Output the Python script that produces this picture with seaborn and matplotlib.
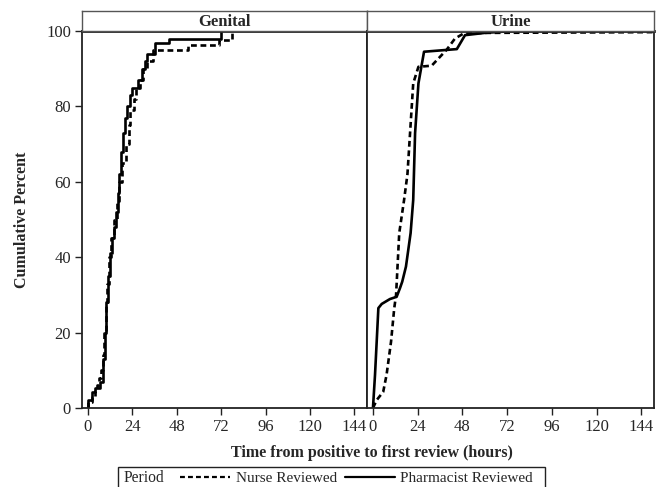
import numpy as np
import pandas as pd
import matplotlib
matplotlib.use("Agg")
import matplotlib.pyplot as plt
from matplotlib.lines import Line2D
from matplotlib.patches import Rectangle
import seaborn as sns

# ---------------- data ----------------
panels = ["Genital", "Urine"]
periods = ["Nurse Reviewed", "Pharmacist Reviewed"]

# Genital: step (ECDF-like) curves
gen_nurse_t = [0, 0, 2, 4, 5, 6, 7, 8, 8.5, 9.5, 10.5, 11.5, 12.5, 14, 15.5, 17, 18.5,
               20.5, 22, 23, 25, 26, 28, 30, 32, 35, 54, 71, 78]
gen_nurse_p = [0, 1.5, 3, 4.5, 6, 8, 10, 14, 20, 27, 33, 40, 45, 50, 55, 60, 65,
               70, 75, 79, 82, 85, 87, 90, 92, 95, 96.3, 97.6, 100]
gen_pharm_t = [0, 0, 2, 4, 6.5, 8, 9, 10, 11, 12, 13, 14, 15, 16, 17, 18, 19,
               20, 21, 23, 24, 27, 29, 31, 32, 36, 44, 72]
gen_pharm_p = [0, 2.1, 4.2, 5.3, 7, 13, 20, 28, 35, 41, 45, 48, 52, 57, 62, 68, 73,
               77, 80, 83, 85, 87, 90, 92, 94, 96.7, 97.8, 100]

# Urine: smooth curves
uri_nurse_t = [0, 2, 5.5, 7.3, 9.7, 11.4, 12.4, 14.1, 16.7, 18.5, 19.9, 21.6, 24.4,
               31.5, 39.5, 44, 48.5, 60, 151]
uri_nurse_p = [0, 2.1, 4.3, 8.8, 17.6, 26.4, 30, 46.4, 55.2, 62, 72.9, 86.1, 90.5,
               90.8, 95, 98, 99.3, 99.5, 99.7]
uri_pharm_t = [0, 1.1, 2.0, 2.9, 4.7, 9.1, 12.7, 14.5, 15.7, 17.7, 20.2, 21.6,
               22.6, 24.4, 27.4, 45, 49.4, 60, 75, 151]
uri_pharm_p = [0, 8.8, 17.6, 26.5, 27.6, 28.9, 29.5, 31.8, 33.5, 37.5, 46.4, 55.2,
               72.9, 86.1, 94.5, 95.2, 98.9, 99.5, 100, 100]

x_ticks = [0, 24, 48, 72, 96, 120, 144]
y_ticks = [0, 20, 40, 60, 80, 100]
x_label = "Time from positive to first review (hours)"
y_label = "Cumulative Percent"
legend_title = "Period"

# ---------------- build frames ----------------
def frame(t, p, period):
    return pd.DataFrame({"t": t, "p": p, "Period": period})

gen_df = pd.concat([frame(gen_nurse_t, gen_nurse_p, periods[0]),
                    frame(gen_pharm_t, gen_pharm_p, periods[1])], ignore_index=True)
uri_df = pd.concat([frame(uri_nurse_t, uri_nurse_p, periods[0]),
                    frame(uri_pharm_t, uri_pharm_p, periods[1])], ignore_index=True)

# ---------------- style ----------------
sns.set_theme(style="white")
plt.rcParams["font.family"] = ["Liberation Serif", "DejaVu Serif"]
plt.rcParams["axes.edgecolor"] = "#222222"

W, H = 665, 487
fig = plt.figure(figsize=(W / 100, H / 100), dpi=100)

def fx(px):
    return px / W

def fy(py):
    return 1 - py / H

plot_top, plot_bot = 31, 408
head_top = 11
edges = [(82, 367), (367, 654)]

dash_pat = (2.2, 1.4)
dash_map = {periods[0]: dash_pat, periods[1]: ""}

data = [gen_df, uri_df]
for i, (name, (x0, x1)) in enumerate(zip(panels, edges)):
    ax = fig.add_axes([fx(x0), fy(plot_bot), fx(x1) - fx(x0), fy(plot_top) - fy(plot_bot)])
    kw = dict(drawstyle="steps-post") if i == 0 else {}
    sns.lineplot(data=data[i], x="t", y="p", style="Period", dashes=dash_map,
                 color="black", lw=1.9, estimator=None, sort=False,
                 legend=False, ax=ax, **kw)
    ax.set_xlim(-3.2, 150.8)
    ax.set_ylim(0, 100)
    ax.set_xticks(x_ticks)
    ax.set_xticklabels([str(v) for v in x_ticks], fontsize=12)
    ax.set_xlabel("")
    ax.set_ylabel("")
    if i == 0:
        ax.set_yticks(y_ticks)
        ax.set_yticklabels([str(v) for v in y_ticks], fontsize=12)
    else:
        ax.set_yticks([])
    ax.tick_params(axis="both", which="both", direction="out", length=5, width=1,
                   color="#222222", pad=3, bottom=True, left=(i == 0))
    for s in ax.spines.values():
        s.set_linewidth(1.3)
        s.set_color("#222222")
    ax.spines["top"].set_linewidth(2.0)

    # header strip
    hx = fig.add_axes([fx(x0), fy(plot_top), fx(x1) - fx(x0), fy(head_top) - fy(plot_top)])
    hx.set_xticks([])
    hx.set_yticks([])
    for s in hx.spines.values():
        s.set_linewidth(1.0)
        s.set_color("#555555")
    hx.text(0.5, 0.45, name, ha="center", va="center", fontsize=12,
            fontweight="bold", transform=hx.transAxes)

fig.text(fx(372), fy(453), x_label, ha="center", va="center",
         fontsize=11.5, fontweight="bold")
fig.text(fx(22), fy(220), y_label, ha="center", va="center", rotation=90,
         fontsize=11.5, fontweight="bold")

# legend: boxed row "Period  ---- Nurse Reviewed  ____ Pharmacist Reviewed"
fig.add_artist(Rectangle((fx(118), fy(490)), fx(545) - fx(118), fy(467) - fy(490),
                         transform=fig.transFigure, fill=False,
                         edgecolor="#222222", lw=1.0))
fig.text(fx(124), fy(478), legend_title, ha="left", va="center", fontsize=11.2)
handles = [Line2D([], [], color="black", lw=1.6, linestyle=(0, dash_pat)),
           Line2D([], [], color="black", lw=1.6)]
leg = fig.legend(handles, periods, loc="center left",
                 bbox_to_anchor=(fx(180), fy(478)),
                 ncol=2, frameon=False, fontsize=11.0,
                 handlelength=3.3, handletextpad=0.35, columnspacing=0.5,
                 borderpad=0, borderaxespad=0)

fig.savefig("out.png", dpi=100)
